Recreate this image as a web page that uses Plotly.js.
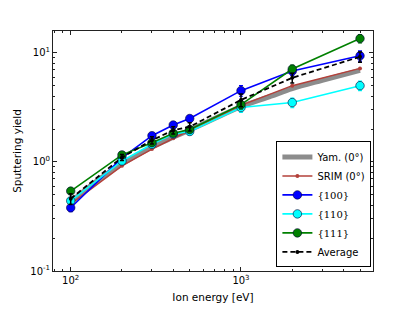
<!DOCTYPE html>
<html><head><meta charset="utf-8">
<script src="https://cdn.plot.ly/plotly-3.0.1.min.js"></script>
<style>body{margin:0;padding:0;background:#fff}#c{width:415px;height:312px}</style>
</head><body><div id="c"></div>
<script>
const energy = [100, 200, 300, 400, 500, 1000, 2000, 5000];
const yamEnergy = [100, 150, 200, 300, 400, 500, 700, 1000, 1500, 2000, 3000, 5000];
const yamYield = [0.43, 0.71, 0.96, 1.37, 1.68, 1.96, 2.5, 3.2, 4.0, 4.7, 5.6, 6.9];
const srimYield = [0.41, 0.92, 1.31, 1.65, 1.95, 3.3, 5.0, 7.2];
const y100 = [0.38, 1.09, 1.74, 2.18, 2.5, 4.5, 6.8, 9.4];
const e100 = [0.03, 0.07, 0.12, 0.15, 0.15, 0.5, 0.6, 1.0];
const y110 = [0.44, 1.02, 1.45, 1.8, 1.9, 3.15, 3.5, 5.0];
const e110 = [0.03, 0.06, 0.1, 0.12, 0.13, 0.3, 0.35, 0.5];
const y111 = [0.54, 1.16, 1.5, 1.83, 1.98, 3.35, 7.1, 13.5];
const e111 = [0.03, 0.07, 0.1, 0.12, 0.13, 0.3, 0.6, 1.2];
const yAvg = [0.46, 1.1, 1.58, 1.95, 2.1, 3.7, 5.9, 9.2];
const eAvg = [0.05, 0.07, 0.12, 0.15, 0.18, 0.5, 0.6, 1.0];
const names = ['Yam. (0°)', 'SRIM (0°)',
  '<span style="font-family:DejaVu Serif">{100}</span>',
  '<span style="font-family:DejaVu Serif">{110}</span>',
  '<span style="font-family:DejaVu Serif">{111}</span>', 'Average'];
const xTickVals = [100, 1000];
const xTickText = ['10<sup>2</sup>', '10<sup>3</sup>'];
const yTickVals = [0.1, 1, 10];
const yTickText = ['10<sup>-1</sup>', '10<sup>0</sup>', '10<sup>1</sup>'];

function minors(lo, hi) { const r = []; for (let p = lo; p <= hi; p++) for (let m = 2; m <= 9; m++) r.push(m * Math.pow(10, p)); return r; }

function dataTrace(y, e, color, name) {
  return {x: energy, y: y, name: name, mode: 'lines+markers', type: 'scatter',
    line: {color: color, width: 1.6},
    marker: {color: color, size: 8.5, line: {color: '#003', width: 0.6}},
    error_y: {type: 'data', array: e, color: color, thickness: 1.2, width: 2}};
}
const traces = [
  {x: yamEnergy, y: yamYield, name: names[0], mode: 'lines', type: 'scatter',
   line: {color: 'rgba(120,120,120,0.85)', width: 5, shape: 'spline'}},
  {x: energy, y: srimYield, name: names[1], mode: 'lines+markers', type: 'scatter',
   line: {color: '#b3403a', width: 1.5}, marker: {color: '#b3403a', size: 4}},
  dataTrace(y100, e100, '#0000ff', names[2]),
  dataTrace(y110, e110, '#00ffff', names[3]),
  dataTrace(y111, e111, '#008000', names[4]),
  {x: energy, y: yAvg, name: names[5], mode: 'lines+markers', type: 'scatter',
   line: {color: '#000', width: 1.8, dash: '5px,3px'}, marker: {color: '#000', size: 4},
   error_y: {type: 'data', array: eAvg, color: '#000', thickness: 1.5, width: 2}}
];
const axBase = {type: 'log', showline: true, linecolor: '#222', linewidth: 1, mirror: 'ticks',
  ticks: 'inside', ticklen: 4, tickcolor: '#222', showgrid: false, zeroline: false,
  tickfont: {family: 'DejaVu Sans', size: 10, color: '#000'}};
const layout = {
  width: 415, height: 312,
  margin: {l: 53, r: 42, t: 31, b: 41},
  paper_bgcolor: '#fff', plot_bgcolor: '#fff',
  font: {family: 'DejaVu Sans', size: 10, color: '#000'},
  showlegend: true,
  xaxis: Object.assign({}, axBase, {range: [Math.log10(78.7), Math.log10(5960)],
    tickmode: 'array', tickvals: xTickVals, ticktext: xTickText,
    minor: {tickmode: 'array', tickvals: minors(1, 3), ticks: 'inside', ticklen: 2, tickcolor: '#222'},
    title: {text: 'Ion energy [eV]', font: {size: 10.5}, standoff: 8}}),
  yaxis: Object.assign({}, axBase, {range: [-1, 1.2],
    tickmode: 'array', tickvals: yTickVals, ticktext: yTickText,
    minor: {tickmode: 'array', tickvals: minors(-1, 1), ticks: 'inside', ticklen: 2, tickcolor: '#222'},
    title: {text: 'Sputtering yield', font: {size: 10.5}, standoff: 6}}),
  legend: {x: 0.995, y: 0.015, xanchor: 'right', yanchor: 'bottom',
    bordercolor: '#000', borderwidth: 1, bgcolor: '#fff',
    font: {family: 'DejaVu Sans', size: 10}, tracegroupgap: 0, itemwidth: 30}
};
Plotly.newPlot('c', traces, layout, {staticPlot: true, displayModeBar: false});
</script></body></html>
